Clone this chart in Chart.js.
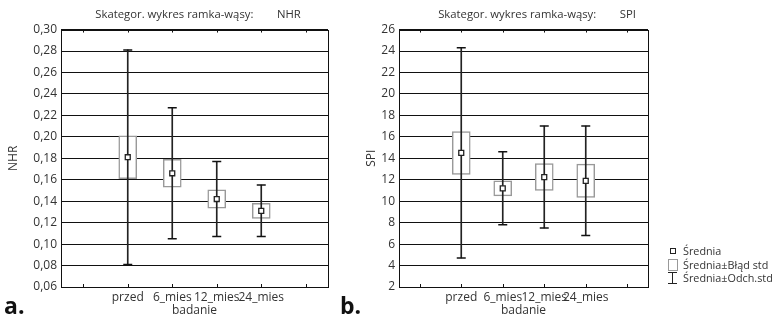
<!DOCTYPE html>
<html>
<head>
<meta charset="utf-8">
<script src="https://cdn.jsdelivr.net/npm/chart.js@4.4.1/dist/chart.umd.min.js"></script>
<style>
  body { margin: 0; background: #fff; font-family: "Open Sans", sans-serif; }
  #wrap { position: relative; width: 776px; height: 320px; overflow: hidden; }
  #boxA { position: absolute; left: 0; top: 0; width: 396px; height: 320px; }
  #boxB { position: absolute; left: 340px; top: 0; width: 394px; height: 320px; }
  .tag { position: absolute; font: bold 23px "Open Sans", sans-serif; color: #111; }
  #legend { position: absolute; left: 665px; top: 244px; font-size: 10.8px; color: #333; line-height: 13.5px; }
  #legend div { position: relative; padding-left: 18px; height: 13.5px; white-space: nowrap; }
  .ic { position: absolute; box-sizing: border-box; }
  .ic-mean { left: 5px; top: 4px; width: 6px; height: 6px; border: 1.3px solid #222; }
  .ic-box { left: 3px; top: 1px; width: 10px; height: 12px; border: 1.2px solid #999; }
  .ic-sd { left: 3px; top: 1px; width: 9px; height: 12px; border-top: 1.5px solid #222; border-bottom: 1.5px solid #222; }
  .ic-sd:after { content: ""; position: absolute; left: 4px; top: 0; width: 1px; height: 100%; background: #222; }
</style>
</head>
<body>
<div id="wrap">
  <div id="boxA"><canvas id="chartA"></canvas></div>
  <div id="boxB"><canvas id="chartB"></canvas></div>
  <div class="tag" style="left:4px;top:289px">a.</div>
  <div class="tag" style="left:340px;top:289px">b.</div>
  <div id="legend">
    <div><span class="ic ic-mean"></span>Średnia</div>
    <div><span class="ic ic-box"></span>Średnia±Błąd std</div>
    <div><span class="ic ic-sd"></span>Średnia±Odch.std</div>
  </div>
</div>
<script>
var categories = ['', 'przed', '6_mies', '12_mies', '24_mies', ''];

// NHR: srednia, blad std, odchylenie std
var nhrMean = [null, 0.181, 0.166, 0.142, 0.131, null];
var nhrSe = [null, 0.020, 0.013, 0.0085, 0.007, null];
var nhrSd = [null, 0.100, 0.061, 0.035, 0.024, null];

// SPI
var spiMean = [null, 14.5, 11.2, 12.25, 11.9, null];
var spiSe = [null, 2.0, 0.7, 1.25, 1.55, null];
var spiSd = [null, 9.8, 3.4, 4.75, 5.1, null];

Chart.defaults.font.family = '"Open Sans", sans-serif';
Chart.defaults.font.size = 12;
Chart.defaults.color = '#333';

// ramka wokol wykresu + krotkie kreski na osi x (do srodka)
var framePlugin = {
    id: 'frame',
    afterDraw: function (chart) {
        var ctx = chart.ctx;
        var a = chart.chartArea;
        var xs = chart.scales.x;
        ctx.save();
        ctx.strokeStyle = '#111';
        ctx.lineWidth = 1;
        ctx.strokeRect(Math.round(a.left) + 0.5, Math.round(a.top) + 0.5,
            Math.round(a.right - a.left), Math.round(a.bottom - a.top));
        for (var i = 0; i < xs.ticks.length; i++) {
            var px = Math.round(xs.getPixelForTick(i)) + 0.5;
            ctx.beginPath();
            ctx.moveTo(px, a.top);
            ctx.lineTo(px, a.top + 3);
            ctx.moveTo(px, a.bottom);
            ctx.lineTo(px, a.bottom - 3);
            ctx.stroke();
        }
        ctx.restore();
    }
};

function makeChart(id, mean, se, sd, yMin, yMax, step, digits, yTitle, title, axisW, rightW, titlePad) {
    var boxData = [], sdData = [], capHi = [], capLo = [];
    for (var i = 0; i < mean.length; i++) {
        if (mean[i] === null) {
            boxData.push(null); sdData.push(null); capHi.push(null); capLo.push(null);
        } else {
            boxData.push([mean[i] - se[i], mean[i] + se[i]]);
            sdData.push([mean[i] - sd[i], mean[i] + sd[i]]);
            capHi.push(mean[i] + sd[i]);
            capLo.push(mean[i] - sd[i]);
        }
    }
    var ctx = document.getElementById(id).getContext('2d');
    return new Chart(ctx, {
        type: 'bar',
        data: {
            labels: categories,
            datasets: [{
                type: 'line',
                data: mean,
                showLine: false,
                pointStyle: 'rect',
                pointRadius: 3.5,
                pointBackgroundColor: '#fff',
                pointBorderColor: '#222',
                pointBorderWidth: 1.3,
                order: 0
            }, {
                type: 'line',
                data: capHi,
                showLine: false,
                pointStyle: 'line',
                pointRadius: 4.5,
                pointBorderColor: '#111',
                pointBorderWidth: 1.5,
                order: 1
            }, {
                type: 'line',
                data: capLo,
                showLine: false,
                pointStyle: 'line',
                pointRadius: 4.5,
                pointBorderColor: '#111',
                pointBorderWidth: 1.5,
                order: 1
            }, {
                data: sdData,
                backgroundColor: '#222',
                borderWidth: 0,
                barThickness: 1,
                grouped: false,
                order: 2
            }, {
                data: boxData,
                backgroundColor: '#fff',
                borderColor: '#999',
                borderWidth: 1.5,
                borderSkipped: false,
                barThickness: 18,
                grouped: false,
                order: 3
            }]
        },
        options: {
            responsive: true,
            maintainAspectRatio: false,
            animation: false,
            layout: { padding: 0 },
            plugins: {
                legend: { display: false },
                tooltip: { enabled: false },
                title: {
                    display: true,
                    text: title,
                    font: { size: 11.3, weight: 'normal' },
                    color: '#333',
                    padding: { top: 8, bottom: 8 }
                }
            },
            scales: {
                x: {
                    offset: true,
                    grid: { display: false, drawTicks: false, offset: false },
                    border: { display: false },
                    ticks: { padding: 3, maxRotation: 0, autoSkip: false },
                    title: { display: true, text: 'badanie', font: { size: 12 }, padding: { top: 0, bottom: 2 } },
                    afterFit: function (s) { s.height = 33; }
                },
                y: {
                    min: yMin,
                    max: yMax,
                    ticks: {
                        stepSize: step,
                        padding: 4,
                        callback: function (v) { return v.toFixed(digits).replace('.', ','); }
                    },
                    grid: { color: '#111', lineWidth: 1, drawTicks: false },
                    border: { display: false },
                    title: { display: true, text: yTitle, font: { size: 12 }, padding: { top: titlePad, bottom: 0 } },
                    afterFit: function (s) { s.width = axisW; }
                },
                // pusta os po prawej, tylko zeby tytul byl wysrodkowany jak w oryginale
                yr: {
                    position: 'right',
                    grid: { display: false },
                    border: { display: false },
                    ticks: { display: false },
                    afterFit: function (s) { s.width = rightW; }
                }
            }
        },
        plugins: [framePlugin]
    });
}

makeChart('chartA', nhrMean, nhrSe, nhrSd, 0.06, 0.30, 0.02, 2, 'NHR',
    'Skategor. wykres ramka-wąsy:        NHR', 61, 68, 6);
makeChart('chartB', spiMean, spiSe, spiSd, 2, 26, 2, 0, 'SPI',
    'Skategor. wykres ramka-wąsy:        SPI', 59, 86, 24);
</script>
</body>
</html>
